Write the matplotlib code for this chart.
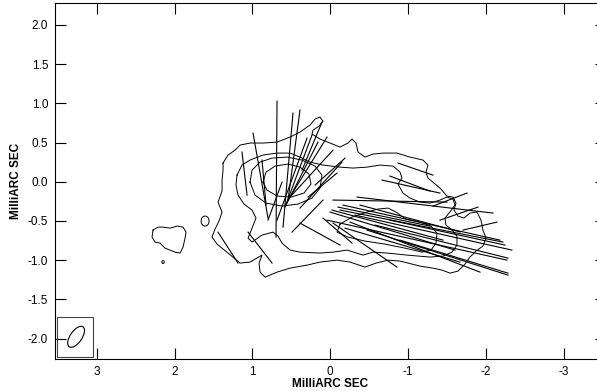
import numpy as np
import matplotlib.pyplot as plt
from matplotlib.patches import Ellipse, Rectangle

plt.rcParams['font.family'] = ['Liberation Sans', 'DejaVu Sans']

c1_x = [1.377, 1.313, 1.223, 1.159, 1.031, 0.864, 0.684, 0.517, 0.389, 0.261, 0.196, 0.132, 0.094, 0.145,
        0.222, 0.235, 0.132, -0.125, -0.227, -0.279, -0.330, -0.356, -0.445, -0.548, -0.677, -0.856,
        -1.023, -1.190, -1.254, -1.228, -1.254, -1.408, -1.498, -1.575, -1.614, -1.588, -1.639, -1.716,
        -1.793, -1.883, -1.935, -1.960, -1.999, -1.960, -1.870, -1.793, -1.729, -1.639, -1.537, -1.434,
        -1.318, -1.151, -0.895, -0.741, -0.587, -0.445, -0.253, -0.086, 0.132, 0.299, 0.517, 0.684,
        0.838, 0.902, 0.915, 0.877, 1.031, 1.159, 1.313, 1.454, 1.519, 1.480, 1.429, 1.390, 1.442,
        1.390, 1.390, 1.377]
c1_y = [0.239, 0.341, 0.404, 0.468, 0.494, 0.494, 0.506, 0.570, 0.634, 0.723, 0.800, 0.825, 0.774, 0.710,
        0.659, 0.608, 0.545, 0.443, 0.494, 0.545, 0.494, 0.379, 0.315, 0.353, 0.366, 0.366,
        0.315, 0.277, 0.213, 0.124, 0.047, -0.080, -0.182, -0.195, -0.272, -0.361, -0.437, -0.463,
        -0.399, -0.386, -0.489, -0.616, -0.718, -0.820, -0.884, -0.960, -1.050, -1.139, -1.165, -1.126,
        -1.101, -1.075, -1.011, -0.999, -1.037, -1.088, -1.024, -0.999, -1.024, -1.063, -1.101, -1.152,
        -1.216, -1.152, -1.037, -0.935, -1.024, -1.037, -0.909, -0.795, -0.705, -0.603, -0.501, -0.386, -0.259,
        -0.119, 0.022, 0.149]

c2_x = [1.198, 1.134, 1.031, 0.864, 0.684, 0.517, 0.389, 0.261, 0.094, -0.125, -0.291, -0.471, -0.638,
        -0.805, -0.895, -0.920, -0.869, -0.933, -1.023, -1.151, -1.280, -1.408, -1.498, -1.575, -1.601,
        -1.536, -1.472, -1.485, -1.562, -1.626, -1.626, -1.562, -1.447, -1.280, -0.985, -0.728, -0.548,
        -0.420, -0.214, -0.035, 0.132, 0.389, 0.517, 0.620, 0.671, 0.736, 0.877, 1.005, 1.056, 1.005,
        0.954, 1.005, 1.108, 1.185, 1.211]
c2_y = [0.085, 0.213, 0.277, 0.341, 0.366, 0.366, 0.315, 0.251, 0.213, 0.187, 0.175, 0.187, 0.213,
        0.200, 0.124, 0.047, -0.029, -0.144, -0.208, -0.259, -0.272, -0.233, -0.195, -0.221, -0.297,
        -0.386, -0.463, -0.552, -0.616, -0.693, -0.807, -0.897, -0.948, -0.960, -0.935, -0.909, -0.897,
        -0.935, -0.871, -0.897, -0.909, -0.897, -0.871, -0.782, -0.693, -0.642, -0.680, -0.769, -0.718, -0.591,
        -0.463, -0.361, -0.284, -0.170, -0.042]

c3_x = [1.031, 1.005, 0.902, 0.748, 0.556, 0.363, 0.196, 0.107, 0.132, 0.235, 0.415, 0.620, 0.825, 0.967]
c3_y = [-0.004, 0.149, 0.251, 0.302, 0.315, 0.277, 0.200, 0.085, -0.080, -0.208, -0.284, -0.310, -0.272, -0.170]

c4_x = [0.864, 0.825, 0.710, 0.543, 0.389, 0.273, 0.248, 0.338, 0.504, 0.684, 0.813]
c4_y = [-0.004, 0.124, 0.200, 0.226, 0.187, 0.098, -0.029, -0.144, -0.195, -0.182, -0.106]

c3j_x = [-0.125, -0.279, -0.471, -0.612, -0.741, -0.843, -0.972, -1.151, -1.293, -1.370, -1.357, -1.293,
         -1.177, -0.959, -0.702, -0.445, -0.227, -0.086]
c3j_y = [-0.540, -0.450, -0.386, -0.348, -0.335, -0.386, -0.476, -0.514, -0.565, -0.654, -0.782, -0.871,
         -0.897, -0.846, -0.795, -0.756, -0.705, -0.642]

blob_x = [2.276, 2.212, 2.148, 2.058, 1.968, 1.891, 1.852, 1.865, 1.891, 1.929, 1.994, 2.058, 2.122, 2.186,
          2.250, 2.289]
blob_y = [-0.616, -0.578, -0.578, -0.591, -0.565, -0.578, -0.642, -0.718, -0.833, -0.909, -0.897, -0.871,
          -0.846, -0.782, -0.769, -0.705]

# small isolated components: x, y, half-width, half-height
knot_x = [1.608, 2.148]
knot_y = [-0.501, -1.024]
knot_w = [0.051, 0.015]
knot_h = [0.064, 0.018]

# polarization vectors (end points, mas)
vec_x0 = [0.684, 0.992, 0.389, 0.479, 1.134, 0.299, 0.235, 0.042, -0.035, -0.086, 0.094, 0.389, 0.094,
          1.442, 1.056, 0.620, 0.158, 0.877, -0.150, 0.107, -0.189,
          -0.869, -0.664, -0.766, -0.035, -0.343, -1.318, -1.408, -1.703, -0.022, -0.163, 0.042, -0.253,
          -0.471, -0.035, -0.125, -0.317, -0.574, 0.004, -0.189, -0.766, -0.895, -0.381, -0.099]
vec_y0 = [1.029, 0.621, 0.915, 0.876, 0.379, 0.557, 0.596, 0.570, 0.404, 0.111, -0.233, -0.527, -0.463,
          -0.642, -0.642, -0.004, 0.506, 0.277, 0.251, 0.761, 0.302,
          0.239, 0.022, 0.073, -0.233, -0.195, -0.310, -0.489, -0.616, -0.361, -0.297, -0.489, -0.514,
          -0.616, -0.527, -0.361, -0.425, -0.552, -0.386, -0.591, -0.489, -0.744, -0.297, -0.323]
vec_x1 = [0.697, 0.800, 0.543, 0.607, 1.069, 0.684, 0.582, 0.543, 0.517, 0.286, 0.492, -0.125, -0.279,
          1.185, 0.748, 0.800, 0.569, 0.825, 0.389, 0.363, 0.196,
          -1.318, -1.408, -1.280, -1.498, -2.089, -1.755, -1.896, -2.140, -1.447, -2.178, -2.268, -1.922,
          -2.281, -0.856, -2.217, -2.332, -2.281, -1.601, -1.665, -2.243, -2.281, -1.669, -1.280]
vec_y1 = [-0.705, -0.463, -0.233, -0.578, -0.170, -0.489, -0.323, -0.233, -0.195, -0.195, -0.642, -0.807, -0.782,
          -1.037, -1.037, -0.489, -0.297, -0.297, -0.335, 0.149, -0.042,
          0.085, -0.144, -0.119, -0.259, -0.399, -0.144, -0.323, -0.514, -0.744, -0.744, -0.999, -1.152,
          -1.190, -1.088, -0.769, -0.871, -0.973, -0.871, -1.024, -0.807, -1.165, -0.640, -0.565]

# restoring beam
beam_x, beam_y = 3.264, -1.977
beam_major, beam_minor, beam_pa = 0.31, 0.15, 125

xticks = [3, 2, 1, 0, -1, -2, -3]
yticks = [-2.0, -1.5, -1.0, -0.5, 0.0, 0.5, 1.0, 1.5, 2.0]

fig = plt.figure(figsize=(5.97, 3.91), dpi=100)
ax = fig.add_axes([55 / 597, 32 / 391, 551 / 597, 356 / 391])

for cx, cy in [(c1_x, c1_y), (c2_x, c2_y), (c3_x, c3_y), (c4_x, c4_y), (c3j_x, c3j_y), (blob_x, blob_y)]:
    ax.plot(cx + cx[:1], cy + cy[:1], color='black', lw=0.7)

for x, y, w, h in zip(knot_x, knot_y, knot_w, knot_h):
    ax.add_patch(Ellipse((x, y), 2 * w, 2 * h, fill=False, ec='black', lw=0.7))

for x0, y0, x1, y1 in zip(vec_x0, vec_y0, vec_x1, vec_y1):
    ax.plot([x0, x1], [y0, y1], color='black', lw=0.8)

ax.add_patch(Rectangle((3.049, -2.232), 0.456, 0.502, fill=False, ec='#444444', lw=0.8))
ax.add_patch(Ellipse((beam_x, beam_y), beam_major, beam_minor, angle=beam_pa, fill=False, ec='black', lw=0.8))

ax.set_xlim(3.535, -3.54)
ax.set_ylim(-2.26, 2.28)
ax.set_xticks(xticks)
ax.set_xticklabels([str(t) for t in xticks])
ax.set_yticks(yticks)
ax.set_yticklabels(['%.1f' % t for t in yticks])
ax.tick_params(direction='in', length=8, width=0.8, top=True, right=True, labelsize=8.5, pad=5)
for s in ax.spines.values():
    s.set_linewidth(0.8)
ax.set_xlabel('MilliARC SEC', fontsize=8.5, fontweight='bold', labelpad=0)
ax.set_ylabel('MilliARC SEC', fontsize=8.5, fontweight='bold', labelpad=4)

fig.savefig('out.png', dpi=100)
